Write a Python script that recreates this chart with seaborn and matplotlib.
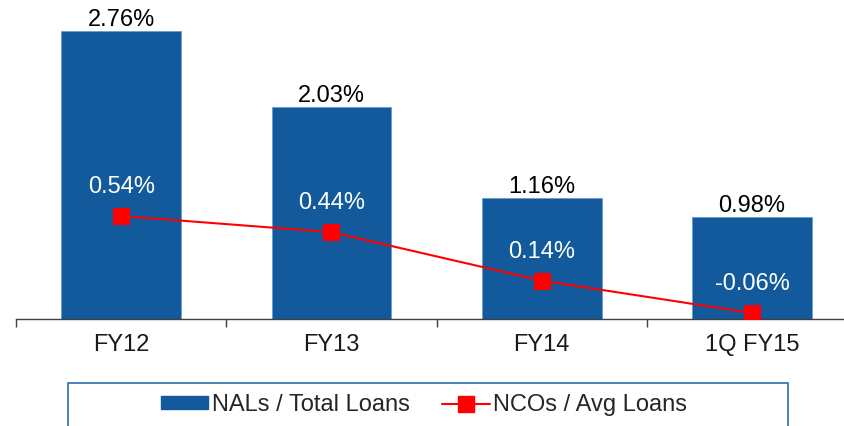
import numpy as np
import pandas as pd
import matplotlib
matplotlib.use('Agg')
import matplotlib.pyplot as plt
import seaborn as sns
from matplotlib.patches import Patch, Rectangle
from matplotlib.lines import Line2D

# chart data
categories = ['FY12', 'FY13', 'FY14', '1Q FY15']
nals_total_loans = [2.76, 2.03, 1.16, 0.98]
ncos_avg_loans = [0.54, 0.44, 0.14, -0.06]

BAR_BLUE = '#135a9d'
LINE_RED = '#ff0000'
FS = 17

sns.set_style('white')
plt.rcParams['font.family'] = ['Liberation Sans', 'DejaVu Sans']

df = pd.DataFrame({'period': categories, 'nals': nals_total_loans, 'ncos': ncos_avg_loans})

fig = plt.figure(figsize=(8.44, 4.26), dpi=100)
ax = fig.add_axes([16 / 844, 107 / 426, 828 / 844, 313 / 426])

sns.barplot(data=df, x='period', y='nals', color=BAR_BLUE, width=0.57,
            edgecolor='#6a9bd0', linewidth=0.6, saturation=1, ax=ax)
ax.set_ylim(0, 3.0)
ax.set_xlim(-0.5, 3.437)

for i, v in enumerate(nals_total_loans):
    ax.annotate(f'{v:.2f}%', (i, v), xytext=(0, 0), textcoords='offset points',
                ha='center', va='bottom', fontsize=FS, color='black')

# secondary axis for the NCO line
ax2 = ax.twinx()
sns.lineplot(x=np.arange(len(categories)), y=df['ncos'], ax=ax2, color=LINE_RED,
             linewidth=1.5, marker='s', markersize=11, markeredgecolor=LINE_RED)
ax2.set_ylim(-0.097, 1.839)
ax2.set_xlim(-0.5, 3.437)
for i, v in enumerate(ncos_avg_loans):
    ax2.annotate(f'{v:.2f}%', (i, v), xytext=(0, 21), textcoords='offset points',
                 ha='center', va='center', fontsize=FS, color='white')

ax2.set_ylabel('')
ax2.set_yticks([])
for s in ax2.spines.values():
    s.set_visible(False)

# primary axis styling
ax.set_xlabel('')
ax.set_ylabel('')
ax.set_yticks([])
for s in ['top', 'right', 'left']:
    ax.spines[s].set_visible(False)
ax.spines['bottom'].set_color('#404040')
ax.spines['bottom'].set_linewidth(1.0)
ax.set_xticks(range(len(categories)))
ax.set_xticklabels(categories, fontsize=FS, color='#1a1a1a')
ax.tick_params(axis='x', which='major', bottom=False, length=0, pad=11)
ax.set_xticks([-0.5, 0.5, 1.5, 2.5], minor=True)
ax.tick_params(axis='x', which='minor', bottom=True, length=6, width=1.0,
               color='#404040', direction='out')

# legend at the bottom
handles = [Patch(facecolor=BAR_BLUE, edgecolor=BAR_BLUE, label='NALs / Total Loans'),
           Line2D([0], [0], color=LINE_RED, linewidth=1.5, marker='s', markersize=11,
                  label='NCOs / Avg Loans')]
fig.legend(handles=handles, loc='center', ncol=2, frameon=False,
           bbox_to_anchor=(424 / 844, 21 / 426), fontsize=FS, handlelength=2.0,
           handleheight=0.45, handletextpad=0.15, columnspacing=1.4)
fig.patches.append(Rectangle((68 / 844, -0.05), 720 / 844, 43 / 426 + 0.05,
                             transform=fig.transFigure, fill=False,
                             edgecolor='#2e6db4', linewidth=1.2))

fig.savefig('out.png', dpi=100)
